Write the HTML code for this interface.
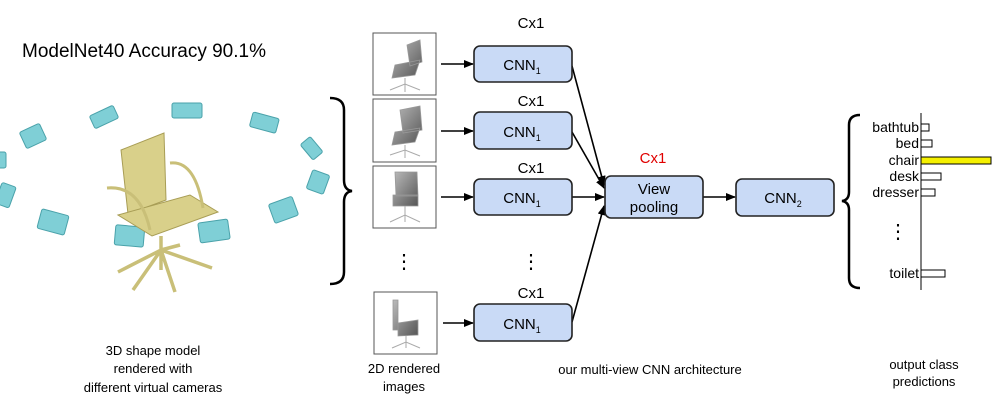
<!DOCTYPE html>
<html><head><meta charset="utf-8"><style>
html,body{margin:0;padding:0;background:#fff;width:998px;height:405px;overflow:hidden}
text{font-family:"Liberation Sans",sans-serif;fill:#000}
</style></head><body>
<svg width="998" height="405" viewBox="0 0 998 405" xmlns="http://www.w3.org/2000/svg">
<defs>
<marker id="a" markerWidth="10" markerHeight="8" refX="9" refY="4" orient="auto" markerUnits="userSpaceOnUse"><path d="M0,0 L10,4 L0,8 z" fill="#000"/></marker>
<linearGradient id="g" x1="0" y1="0" x2="1" y2="1"><stop offset="0" stop-color="#bbb"/><stop offset="1" stop-color="#555"/></linearGradient>
</defs>
<text x="22" y="57" font-size="19">ModelNet40 Accuracy 90.1%</text>

<!-- cameras -->
<g fill="#7fcfd6" stroke="#4aa2aa" stroke-width="1">
<rect x="91" y="110" width="26" height="14" rx="2" transform="rotate(-25 104 117)"/>
<rect x="172" y="103" width="30" height="15" rx="2"/>
<rect x="251" y="115" width="27" height="15" rx="2" transform="rotate(15 264 122)"/>
<rect x="302" y="142" width="20" height="13" rx="2" transform="rotate(50 312 148)"/>
<rect x="309" y="172" width="18" height="20" rx="2" transform="rotate(20 318 182)"/>
<rect x="271" y="200" width="25" height="20" rx="2" transform="rotate(-20 283 210)"/>
<rect x="199" y="221" width="30" height="20" rx="2" transform="rotate(-8 214 231)"/>
<rect x="115" y="226" width="29" height="20" rx="2" transform="rotate(5 130 236)"/>
<rect x="39" y="212" width="28" height="20" rx="2" transform="rotate(15 53 222)"/>
<rect x="-2" y="184" width="15" height="22" rx="2" transform="rotate(20 5 195)"/>
<rect x="22" y="127" width="22" height="18" rx="2" transform="rotate(-25 33 136)"/>
<rect x="-4" y="152" width="10" height="16" rx="2"/>
</g>
<!-- chair -->
<g fill="#d9d08a" stroke="#a89d55" stroke-width="1">
<path d="M121 150 L164 133 L166 200 L128 214 Z"/>
<path d="M118 215 L190 195 L218 212 L152 236 Z"/>
<path d="M107 188 Q140 185 150 230" fill="none" stroke="#c9bf78" stroke-width="3"/>
<path d="M170 163 Q195 160 203 208" fill="none" stroke="#c9bf78" stroke-width="3"/>
<path d="M161 236 L161 270 M161 250 L118 272 M161 250 L133 290 M161 250 L175 292 M161 250 L212 268 M161 250 L180 245" fill="none" stroke="#c9bf78" stroke-width="3.5"/>
</g>
<text font-size="13" text-anchor="middle"><tspan x="153" y="355">3D shape model</tspan><tspan x="153" y="373">rendered with</tspan><tspan x="153" y="392">different virtual cameras</tspan></text>

<!-- left brace -->
<path d="M330 98 Q344 98 344 110 L344 180 Q344 190 352 191 Q344 192 344 202 L344 272 Q344 284 330 284" fill="none" stroke="#000" stroke-width="2.5"/>

<!-- thumbnails -->
<g stroke="#555" stroke-width="1" fill="#fff">
<rect x="373" y="33" width="63" height="62"/>
<rect x="373" y="99" width="63" height="63"/>
<rect x="373" y="166" width="63" height="62"/>
<rect x="374" y="292" width="63" height="62"/>
</g>
<g fill="url(#g)" stroke="#999" stroke-width="0.8">
<path d="M395 65 L420 60 L415 75 L392 78 Z M407 45 L420 40 L422 62 L410 66 Z"/>
<path d="M395 132 L420 128 L415 142 L392 145 Z M400 110 L420 106 L422 130 L403 133 Z"/>
<path d="M393 195 L418 195 L418 206 L393 206 Z M395 172 L417 172 L418 196 L396 196 Z"/>
<path d="M398 323 L418 320 L418 335 L398 336 Z M393 300 L398 300 L398 330 L393 330 Z"/>
</g>
<g stroke="#aaa" fill="none" stroke-width="1">
<path d="M405 78 L405 92 M390 90 L405 84 L420 90"/>
<path d="M405 145 L405 158 M390 155 L405 150 L420 156"/>
<path d="M405 206 L405 222 M390 222 L405 215 L420 222"/>
<path d="M406 336 L406 348 M392 348 L406 342 L420 348"/>
</g>
<text x="404" y="268" font-size="20" text-anchor="middle">⋮</text>
<text x="531" y="268" font-size="20" text-anchor="middle">⋮</text>
<text font-size="13" text-anchor="middle"><tspan x="404" y="373">2D rendered</tspan><tspan x="404" y="391">images</tspan></text>

<!-- arrows -->
<g stroke="#000" stroke-width="1.6" marker-end="url(#a)">
<line x1="441" y1="64" x2="473" y2="64"/>
<line x1="441" y1="131" x2="473" y2="131"/>
<line x1="441" y1="197" x2="473" y2="197"/>
<line x1="443" y1="323" x2="473" y2="323"/>
<line x1="572" y1="66" x2="604" y2="185"/>
<line x1="572" y1="132" x2="604" y2="188"/>
<line x1="572" y1="197" x2="604" y2="197"/>
<line x1="572" y1="322" x2="604" y2="206"/>
<line x1="703" y1="197" x2="735" y2="197"/>
</g>

<!-- CNN boxes -->
<g fill="#c9daf6" stroke="#222" stroke-width="1.6">
<rect x="474" y="46" width="98" height="36" rx="6"/>
<rect x="474" y="112" width="98" height="37" rx="6"/>
<rect x="474" y="179" width="98" height="36" rx="6"/>
<rect x="474" y="304" width="98" height="37" rx="6"/>
<rect x="605" y="176" width="98" height="42" rx="6"/>
<rect x="736" y="179" width="98" height="37" rx="6"/>
</g>
<g font-size="15" text-anchor="middle">
<text x="522" y="70">CNN<tspan font-size="9" dy="4">1</tspan></text>
<text x="522" y="137">CNN<tspan font-size="9" dy="4">1</tspan></text>
<text x="522" y="203">CNN<tspan font-size="9" dy="4">1</tspan></text>
<text x="522" y="329">CNN<tspan font-size="9" dy="4">1</tspan></text>
<text x="783" y="203">CNN<tspan font-size="9" dy="4">2</tspan></text>
<text x="654" y="194">View</text>
<text x="654" y="212">pooling</text>
<text x="531" y="28">Cx1</text>
<text x="531" y="106">Cx1</text>
<text x="531" y="173">Cx1</text>
<text x="531" y="298">Cx1</text>
<text x="653" y="163" style="fill:#e00000">Cx1</text>
</g>
<text x="650" y="374" font-size="13" text-anchor="middle">our multi-view CNN architecture</text>

<!-- right brace -->
<path d="M860 115 Q849 115 849 125 L849 192 Q849 200 842 201 Q849 202 849 210 L849 278 Q849 288 860 288" fill="none" stroke="#000" stroke-width="2.5"/>
<line x1="921" y1="113" x2="921" y2="290" stroke="#000" stroke-width="1"/>
<g font-size="14" text-anchor="end">
<text x="919" y="132">bathtub</text>
<text x="919" y="148">bed</text>
<text x="919" y="165">chair</text>
<text x="919" y="181">desk</text>
<text x="919" y="197">dresser</text>
<text x="919" y="278">toilet</text>
</g>
<text x="898" y="238" font-size="20" text-anchor="middle">⋮</text>
<g stroke="#000" stroke-width="1" fill="#fff">
<rect x="921" y="124" width="8" height="7"/>
<rect x="921" y="140" width="11" height="7"/>
<rect x="921" y="157" width="70" height="7" fill="#f5f000"/>
<rect x="921" y="173" width="20" height="7"/>
<rect x="921" y="189" width="14" height="7"/>
<rect x="921" y="270" width="24" height="7"/>
</g>
<text font-size="13" text-anchor="middle"><tspan x="924" y="369">output class</tspan><tspan x="924" y="386">predictions</tspan></text>
</svg>
</body></html>
